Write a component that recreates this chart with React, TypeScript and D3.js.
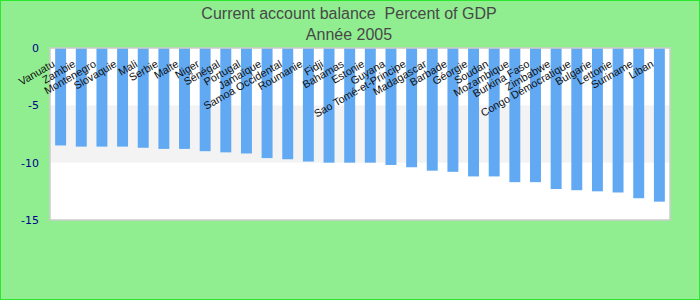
import React from "react";
import * as d3 from "d3";

const categories = [
  "Vanuatu", "Zambie", "Montenegro", "Slovaquie", "Mali", "Serbie", "Malte", "Niger",
  "Sénégal", "Portugal", "Jamaïque", "Samoa Occidental", "Roumanie", "Fidji", "Bahamas",
  "Estonie", "Guyana", "Sao Tomé-et-Principe", "Madagascar", "Barbade", "Géorgie", "Soudan",
  "Mozambique", "Burkina Faso", "Zimbabwe", "Congo Démocratique", "Bulgarie", "Lettonie",
  "Suriname", "Liban",
];

const values = [
  -8.5, -8.6, -8.6, -8.6, -8.7, -8.8, -8.8, -9.0, -9.1, -9.2, -9.6, -9.7, -9.9, -10.0, -10.0,
  -10.0, -10.2, -10.4, -10.7, -10.8, -11.2, -11.2, -11.7, -11.7, -12.3, -12.4, -12.5, -12.6,
  -13.1, -13.4,
];

const yTicks = [0, -5, -10, -15];
const titleLines = ["Current account balance  Percent of GDP", "Année 2005"];

const W = 700;
const H = 300;
const plot = { left: 50, right: 670, top: 48, bottom: 220 };

export default function App() {
  const x = d3
    .scaleBand<string>()
    .domain(categories)
    .range([plot.left, plot.right])
    .paddingInner(0.47)
    .paddingOuter(0.25);
  const y = d3.scaleLinear().domain([-15, 0]).range([plot.bottom, plot.top]);
  const bw = x.bandwidth();

  return (
    <svg
      width={W}
      height={H}
      style={{ position: "absolute", left: 0, top: 0, display: "block" }}
    >
      <rect x={0.5} y={0.5} width={W - 1} height={H - 1} fill="#90ee90" stroke="#2ce82c" strokeWidth={1} />
      {titleLines.map((t, i) => (
        <text
          key={t}
          x={349}
          y={19 + i * 20.5}
          textAnchor="middle"
          fontFamily="Arial, 'Liberation Sans', sans-serif"
          fontSize={16}
          fill="#484848"
          style={{ whiteSpace: "pre" }}
        >
          {t}
        </text>
      ))}
      <rect
        x={plot.left}
        y={plot.top}
        width={plot.right - plot.left}
        height={plot.bottom - plot.top}
        fill="#ffffff"
      />
      <rect
        x={plot.left}
        y={y(-5)}
        width={plot.right - plot.left}
        height={y(-10) - y(-5)}
        fill="#f3f3f3"
      />
      {categories.map((c, i) => (
        <rect
          key={c}
          x={x(c)}
          y={y(0)}
          width={bw}
          height={y(values[i]) - y(0)}
          fill="#62a9f3"
        />
      ))}
      <rect
        x={plot.left}
        y={plot.top}
        width={plot.right - plot.left}
        height={plot.bottom - plot.top}
        fill="none"
        stroke="#cccccc"
        strokeWidth={1.5}
      />
      {yTicks.map((t) => (
        <text
          key={t}
          x={39}
          y={y(t) + 4}
          textAnchor="end"
          fontFamily="'DejaVu Sans', Verdana, sans-serif"
          fontSize={11}
          fill="#00008b"
        >
          {t}
        </text>
      ))}
      {categories.map((c) => {
        const cx = (x(c) as number) + bw / 2 - 5;
        const cy = 66;
        return (
          <text
            key={"l" + c}
            transform={`translate(${cx},${cy}) rotate(-30)`}
            textAnchor="end"
            fontFamily="Arial, 'Liberation Sans', sans-serif"
            fontSize={10.8}
            fill="#111"
          >
            {c}
          </text>
        );
      })}
    </svg>
  );
}
